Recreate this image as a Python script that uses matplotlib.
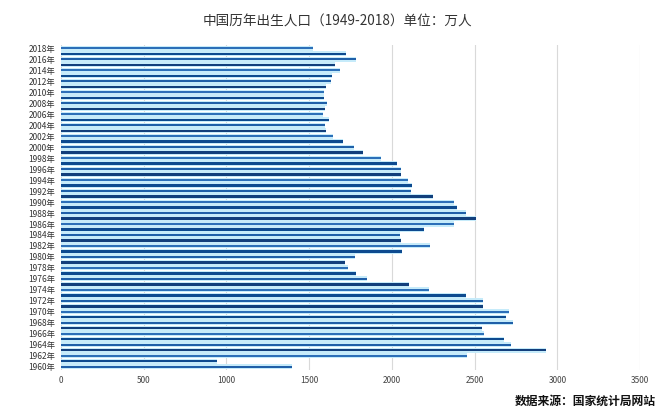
import matplotlib
matplotlib.use("Agg")
import matplotlib.pyplot as plt

plt.rcParams['font.family'] = ['Noto Sans CJK SC', 'DejaVu Sans']

# DATA
years = list(range(1960, 2019))
births = [1395, 945, 2453, 2934, 2721, 2679, 2554, 2543, 2731, 2690,
          2710, 2551, 2550, 2447, 2226, 2102, 1849, 1783, 1733, 1715,
          1776, 2064, 2230, 2052, 2050, 2196, 2374, 2508, 2445, 2396,
          2374, 2250, 2113, 2120, 2098, 2052, 2057, 2028, 1934, 1827,
          1771, 1702, 1647, 1599, 1593, 1617, 1585, 1595, 1608, 1591,
          1592, 1604, 1635, 1640, 1687, 1655, 1786, 1723, 1523]
year_labels = [f"{y}年" for y in years]
x_ticks = [0, 500, 1000, 1500, 2000, 2500, 3000, 3500]

shades = ["#1f5fa8", "#0d4a8f", "#2c6fb8", "#123f7c"]

fig = plt.figure(figsize=(6.62, 4.13), dpi=100)
ax = fig.add_axes([0.092, 0.104, 0.875, 0.787])

# light halo + dark stripe for each bar
ax.barh(years, births, height=0.92, color="#c6ebfa", zorder=2)
ax.barh(years, births, height=0.42,
        color=[shades[i % len(shades)] for i in range(len(years))], zorder=3)

ax.set_xlim(0, 3500)
ax.set_ylim(1959.4, 2018.6)
ax.set_xticks(x_ticks)
ax.set_xticklabels([str(t) for t in x_ticks], fontsize=6, color="#444444")
ax.set_yticks(years[::2])
ax.set_yticklabels(year_labels[::2], fontsize=6, color="#333333")
ax.tick_params(length=0, pad=4)

ax.grid(axis="x", color="#d9d9d9", linewidth=0.8, zorder=0)
for s in ax.spines.values():
    s.set_visible(False)

fig.text(0.51, 0.948, "中国历年出生人口（1949-2018）单位：万人",
         ha="center", va="center", fontsize=9.8, color="#333333")
fig.text(0.99, 0.028, "数据来源：国家统计局网站",
         ha="right", va="center", fontsize=8.5, fontweight="bold", color="#111111")

fig.savefig("out.png", dpi=100, facecolor="white")
